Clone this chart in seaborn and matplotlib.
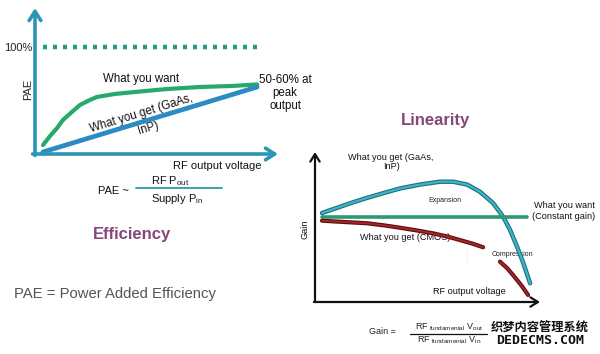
import matplotlib
matplotlib.use("Agg")
import matplotlib.pyplot as plt
import numpy as np
import pandas as pd
import seaborn as sns

# ---------------- data ----------------
# Efficiency panel (x: RF output voltage, 0-100; y: PAE in %)
want_x = [3.3, 6.2, 9.1, 11.5, 15.2, 18.5, 22.6, 25.5, 32.9, 43.2, 54.3,
          67.9, 81.5, 91.4]
want_y = [8.4, 16.8, 24.3, 31.8, 39.3, 45.8, 50.5, 53.3, 56.1, 58.4, 60.7,
          62.6, 63.6, 65.0]
gaas_pae_x = [3.3, 91.4]
gaas_pae_y = [1.9, 62.6]
ideal_x = [3.3, 93.4]
ideal_y = [100, 100]

# Linearity panel (x: RF output voltage, 0-100; y: gain, 0-100)
gaas_gain_x = [3.1, 8.9, 15.6, 22.2, 30.2, 37.8, 46.7, 55.6, 61.3, 67.6,
               73.3, 79.1, 83.6, 86.7, 89.8, 92.4, 95.6]
gaas_gain_y = [59.3, 62.3, 65.8, 69.0, 72.5, 75.7, 78.3, 80.2, 80.2, 78.3,
               73.5, 66.0, 56.9, 48.0, 36.9, 26.7, 12.5]
const_x = [3.0, 94.2]
const_y = [56.7, 56.7]
cmos_x = [3.1, 13.3, 23.1, 31.1, 37.8, 45.3, 52.4, 58.7, 64.4, 69.8, 74.7,
          82.2, 85.3, 88.0, 91.6, 94.7]
cmos_y = [54.2, 53.3, 52.5, 51.0, 49.5, 47.7, 45.8, 43.7, 41.3, 39.0, 36.5,
          26.9, 22.7, 18.0, 11.3, 4.7]
cmos_seg = [0] * 11 + [1] * 5
tick_x = [67.6, 67.6]
tick_y = [26.7, 36.0]

# ---------------- style ----------------
sns.set_theme(style="white")
plt.rcParams["font.family"] = ["Liberation Sans", "DejaVu Sans"]

TEAL = "#2b95b5"
GREEN = "#27a86c"
BLUE = "#2a8cc2"
DOT = "#1f9a80"
PURPLE = "#86467a"

fig = plt.figure(figsize=(6, 3.54), dpi=100)
fig.patch.set_facecolor("white")

# canvas for free text (pixel coordinates)
cv = fig.add_axes([0, 0, 1, 1])
cv.set_xlim(0, 600)
cv.set_ylim(354, 0)
cv.axis("off")

W, H = 600.0, 354.0

def px_axes(x0, y0, x1, y1):
    return fig.add_axes([x0 / W, (H - y0) / H, (x1 - x0) / W, (y0 - y1) / H])

line_kw = dict(clip_on=False, solid_capstyle="round", solid_joinstyle="round")

# ---------------- Efficiency panel ----------------
ax1 = px_axes(35, 154, 278, 8)
ax1.set_xlim(0, 100)
ax1.set_ylim(0, 136.4)
ax1.axis("off")
ax1.patch.set_alpha(0)

arr_kw = dict(arrowstyle="->,head_length=0.55,head_width=0.35", lw=2.6,
              color=TEAL, shrinkA=0, shrinkB=0)
ax1.annotate("", xy=(0, 1), xytext=(0, -0.01), xycoords="axes fraction",
             arrowprops=arr_kw)
ax1.annotate("", xy=(1, 0), xytext=(-0.01, 0), xycoords="axes fraction",
             arrowprops=arr_kw)

sns.lineplot(x=ideal_x, y=ideal_y, ax=ax1, color=DOT, lw=3.2,
             linestyle=(0, (0.9, 1.35)), clip_on=False)
sns.lineplot(x=want_x, y=want_y, ax=ax1, color=GREEN, lw=3.0, sort=False,
             **line_kw)
sns.lineplot(x=gaas_pae_x, y=gaas_pae_y, ax=ax1, color=BLUE, lw=3.4,
             **line_kw)

cv.text(32, 48, "100%", fontsize=8, ha="right", va="center", color="#222")
cv.text(28, 89, "PAE", fontsize=8, rotation=90, ha="center", va="center",
        color="#222")
cv.text(141, 79, "What you want", fontsize=8.3, ha="center", va="center",
        color="#111")
cv.text(285, 93, "50-60% at\npeak\noutput", fontsize=8.3, ha="center",
        va="center", color="#111", linespacing=1.15)
cv.text(141, 114, "What you get (GaAs,", fontsize=8.3, ha="center",
        va="center", rotation=17, color="#111", rotation_mode="anchor")
cv.text(148, 128, "InP)", fontsize=8.3, ha="center", va="center",
        rotation=17, color="#111", rotation_mode="anchor")
cv.text(217, 166, "RF output voltage", fontsize=8, ha="center",
        va="center", color="#111")

# PAE formula
cv.text(113, 191, "PAE ~", fontsize=8, ha="center", va="center",
        color="#111")
cv.plot([136, 222], [188, 188], color="#3a9fb0", lw=1.4)
cv.text(170, 181, r"RF P$_{\mathregular{out}}$", fontsize=8, ha="center",
        va="center", color="#111")
cv.text(177, 199, r"Supply P$_{\mathregular{in}}$", fontsize=8,
        ha="center", va="center", color="#111")

cv.text(132, 235, "Efficiency", fontsize=12, fontweight="bold",
        ha="center", va="center", color=PURPLE)
cv.text(14, 294, "PAE = Power Added Efficiency", fontsize=10.7,
        ha="left", va="center", color="#555555")

# ---------------- Linearity panel ----------------
ax2 = px_axes(315, 302, 540, 152)
ax2.set_xlim(0, 100)
ax2.set_ylim(0, 100)
ax2.axis("off")
ax2.patch.set_alpha(0)

arr2 = dict(arrowstyle="->,head_length=0.45,head_width=0.28", lw=1.6,
            color="#111111", shrinkA=0, shrinkB=0)
ax2.annotate("", xy=(0, 1), xytext=(0, 0), xycoords="axes fraction",
             arrowprops=arr2)
ax2.annotate("", xy=(1, 0), xytext=(-0.005, 0), xycoords="axes fraction",
             arrowprops=arr2)

sns.lineplot(x=gaas_gain_x, y=gaas_gain_y, ax=ax2, color="#1d6f7d", lw=3.2,
             sort=False, **line_kw)
sns.lineplot(x=gaas_gain_x, y=gaas_gain_y, ax=ax2, color="#3cb6c6", lw=1.6,
             sort=False, **line_kw)
sns.lineplot(x=const_x, y=const_y, ax=ax2, color="#2b9a6e", lw=2.6,
             clip_on=False)
cmos_df = pd.DataFrame({"x": cmos_x, "y": cmos_y, "seg": cmos_seg})
sns.lineplot(data=cmos_df, x="x", y="y", units="seg", estimator=None,
             ax=ax2, color="#5e0c0c", lw=3.0, sort=False, **line_kw)
sns.lineplot(data=cmos_df, x="x", y="y", units="seg", estimator=None,
             ax=ax2, color="#a3262a", lw=1.4, sort=False, **line_kw)
sns.lineplot(x=tick_x, y=tick_y, ax=ax2, color="#c8c8c8", lw=0.8,
             clip_on=False)

cv.text(435, 120, "Linearity", fontsize=12, fontweight="bold",
        ha="center", va="center", color=PURPLE)
cv.text(391, 162, "What you get (GaAs,\nInP)", fontsize=6.6, ha="center",
        va="center", color="#111", linespacing=1.1)
cv.text(445, 200, "Expansion", fontsize=5, ha="center", va="center",
        color="#222")
cv.text(564, 211, "What you want\n(Constant gain)", fontsize=6.6,
        ha="center", va="center", color="#111", linespacing=1.15)
cv.text(405, 238, "What you get (CMOS)", fontsize=6.6, ha="center",
        va="center", color="#111")
cv.text(512, 254, "Compression", fontsize=5, ha="center", va="center",
        color="#222")
cv.text(469, 291, "RF output voltage", fontsize=6.6, ha="center",
        va="center", color="#111")
cv.text(305, 229, "Gain", fontsize=6.6, rotation=90, ha="center",
        va="center", color="#111")

# Gain formula
cv.text(382, 332, "Gain =", fontsize=6.5, ha="center", va="center",
        color="#222")
cv.plot([410, 487], [333.5, 333.5], color="#111", lw=0.9)
cv.text(449, 327, r"RF$_{\mathregular{\ fundamental}}$ V$_{\mathregular{out}}$",
        fontsize=6.5, ha="center", va="center", color="#222")
cv.text(449, 340, r"RF$_{\mathregular{\ fundamental}}$ V$_{\mathregular{in}}$",
        fontsize=6.5, ha="center", va="center", color="#222")

# watermark
cv.text(540, 328, "织梦内容管理系统", fontsize=8.8, fontweight="bold",
        ha="center", va="center", color="#111",
        family=["Noto Sans CJK SC", "DejaVu Sans"])
cv.text(540, 340, "DEDECMS.COM", fontsize=9.5, fontweight="bold",
        ha="center", va="center", color="#111", family="DejaVu Sans Mono")

fig.savefig("out.png", dpi=100, facecolor="white")
